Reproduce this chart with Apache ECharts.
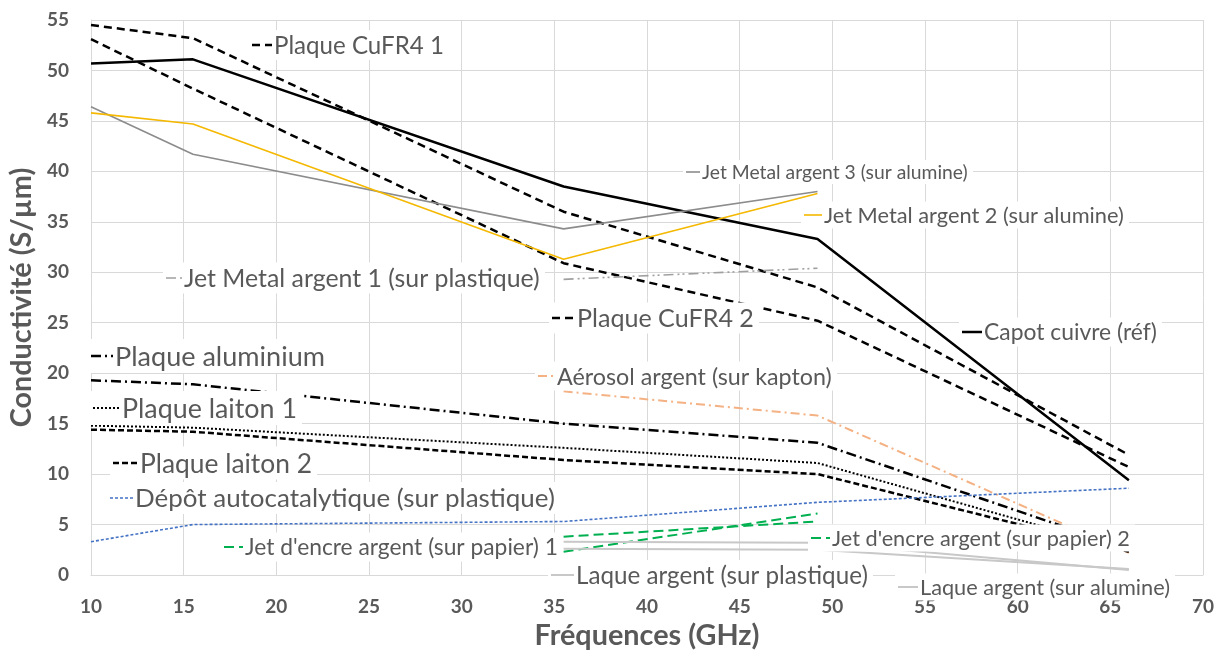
<!DOCTYPE html>
<html><head><meta charset="utf-8">
<script src="https://cdn.jsdelivr.net/npm/echarts@6/dist/echarts.min.js"></script>
<style>html,body{margin:0;padding:0;background:#fff}#c{width:1225px;height:657px}</style>
</head><body><div id="c"></div>
<script>
// ---- data ----
const freqs = [10, 15.5, 35.5, 49.2, 66];
const capotCuivre   = [50.7, 51.1, 38.5, 33.3, 9.4];
const plaqueCuFR4_1 = [54.5, 53.2, 36.0, 28.5, 11.9];
const plaqueCuFR4_2 = [53.1, 48.2, 30.9, 25.2, 10.7];
const jetMetal3     = [46.4, 41.7, 34.3, 38.0, null];
const jetMetal2     = [45.8, 44.7, 31.3, 37.8, null];
const jetMetal1     = [null, null, 29.3, 30.4, null];
const plaqueAlu     = [19.3, 18.9, 15.0, 13.1, 2.6];
const plaqueLaiton1 = [14.8, 14.6, 12.6, 11.1, 2.4];
const plaqueLaiton2 = [14.4, 14.2, 11.4, 10.0, 2.3];
const depotAuto     = [3.3, 5.0, 5.3, 7.2, 8.6];
const aerosol       = [null, null, 18.2, 15.8, 2.2];
const jetEncre1     = [null, null, 2.3, 6.1, null];
const jetEncre2     = [null, null, 3.8, 5.3, null];
const laquePlast    = [null, null, 3.3, 3.2, 0.5];
const laqueAlu      = [null, null, 2.6, 2.5, 0.6];
const xTicks = [10, 70, 5];
const yTicks = [0, 55, 5];

const FONT = 'Lato';
const TXT = '#595959';
const GRIDC = '#D9D9D9';

// series: name, data, color, width, dash, label anchor (data coords), key length, text width
const seriesDefs = [
  {name:'Plaque CuFR4 1', data:plaqueCuFR4_1, color:'#000', w:2.5, dash:[8,5], at:[18.7,52.57], key:20, tw:170},
  {name:'Plaque CuFR4 2', data:plaqueCuFR4_2, color:'#000', w:2.5, dash:[8,5], at:[34.89,25.45], key:23, tw:177},
  {name:'Capot cuivre (réf)', data:capotCuivre, color:'#000', w:2.5, dash:null, at:[57.02,24.06], key:20, tw:173},
  {name:'Jet Metal argent 3 (sur alumine)', data:jetMetal3, color:'#8C8C8C', w:1.6, dash:null, at:[42.13,39.9], key:14, tw:266},
  {name:'Jet Metal argent 2 (sur alumine)', data:jetMetal2, color:'#F5B800', w:1.6, dash:null, at:[48.49,35.64], key:18, tw:300},
  {name:'Jet Metal argent 1 (sur plastique)', data:jetMetal1, color:'#A0A0A0', w:1.6, dash:[10,4,2,3,2,4], at:[14.06,29.41], key:16, tw:356},
  {name:'Plaque aluminium', data:plaqueAlu, color:'#000', w:2.5, dash:[10,4,2,4], at:[10.02,21.68], key:22, tw:210},
  {name:'Aérosol argent (sur kapton)', data:aerosol, color:'#F4B183', w:2, dash:[9,4,2,4], at:[34.14,19.70], key:17, tw:275},
  {name:'Plaque laiton 1', data:plaqueLaiton1, color:'#000', w:2, dash:[2,2], at:[10.12,16.53], key:27, tw:175},
  {name:'Plaque laiton 2', data:plaqueLaiton2, color:'#000', w:2.5, dash:[6,3], at:[11.2,11.09], key:25, tw:172},
  {name:'Dépôt autocatalytique (sur plastique)', data:depotAuto, color:'#4472C4', w:1.6, dash:[3,2], at:[11.04,7.62], key:23, tw:420},
  {name:"Jet d'encre argent (sur papier) 1", data:jetEncre1, color:'#00B050', w:2, dash:[10,5], at:[17.19,2.77], key:19, tw:313},
  {name:"Jet d'encre argent (sur papier) 2", data:jetEncre2, color:'#00B050', w:2, dash:[10,5], at:[48.86,3.66], key:19, tw:298},
  {name:'Laque argent (sur plastique)', data:laquePlast, color:'#C8C8C8', w:2, dash:null, at:[34.84,0], key:23, tw:292},
  {name:'Laque argent (sur alumine)', data:laqueAlu, color:'#C8C8C8', w:2, dash:null, at:[53.56,-1.19], key:20, tw:250}
];

const mctx = document.createElement('canvas').getContext('2d');
function fit(text, target, weight) {
  mctx.font = (weight || 'normal') + ' 100px ' + FONT;
  return 100 * target / mctx.measureText(text).width;
}
const nameSize = fit('Fréquences (GHz)', 225, 'bold');

const chart = echarts.init(document.getElementById('c'), null, {renderer:'canvas'});
const option = {
  backgroundColor:'#fff',
  animation:false,
  grid:{left:91, right:22, top:20, bottom:82, containLabel:false, outerBoundsMode:'none'},
  xAxis:{type:'value', min:xTicks[0], max:xTicks[1], interval:xTicks[2],
    name:'Fréquences (GHz)', nameLocation:'middle', nameGap:46,
    nameTextStyle:{fontFamily:FONT, fontWeight:'bold', fontSize:nameSize, color:TXT},
    axisLine:{lineStyle:{color:GRIDC, width:1}}, axisTick:{show:false},
    axisLabel:{fontFamily:FONT, fontWeight:'bold', fontSize:19, color:TXT, margin:22},
    splitLine:{show:true, lineStyle:{color:GRIDC, width:1}}},
  yAxis:{type:'value', min:yTicks[0], max:yTicks[1], interval:yTicks[2],
    name:'Conductivité (S/µm)', nameLocation:'middle', nameGap:52,
    nameTextStyle:{fontFamily:FONT, fontWeight:'bold', fontSize:nameSize, color:TXT},
    axisLine:{show:true, lineStyle:{color:GRIDC}}, axisTick:{show:false},
    axisLabel:{fontFamily:FONT, fontWeight:'bold', fontSize:19, color:TXT, margin:22},
    splitLine:{show:true, lineStyle:{color:GRIDC, width:1}}},
  series: seriesDefs.map(s => ({
    name:s.name, type:'line', showSymbol:false, symbol:'none', connectNulls:false,
    data: freqs.map((f,i) => [f, s.data[i]]).filter(p => p[1] !== null),
    lineStyle:{color:s.color, width:s.w, type: s.dash ? s.dash : 'solid'},
    itemStyle:{color:s.color}, z:2
  }))
};
chart.setOption(option);

const graphics = seriesDefs.map((s, idx) => {
  const p = chart.convertToPixel({xAxisIndex:0, yAxisIndex:0}, s.at);
  const fs = fit(s.name, s.tw, 'normal');
  const h = Math.round(fs * 1.25);
  return {
    type:'group', x:Math.round(p[0]), y:Math.round(p[1]), z:100 + idx,
    children:[
      {type:'rect', shape:{x:-3, y:-h/2, width:s.key + 3 + s.tw + 7, height:h}, style:{fill:'#fff'}, z:100 + idx},
      {type:'line', shape:{x1:0, y1:0, x2:s.key, y2:0},
       style:{stroke:s.color, lineWidth:s.w, lineDash: s.dash || null}, z:101 + idx},
      {type:'text', x:s.key + 2, y:1, z:101 + idx,
       style:{text:s.name, fontFamily:FONT, fontSize:fs, fill:TXT, verticalAlign:'middle', align:'left'}}
    ]
  };
});
chart.setOption({graphic: graphics});
</script>
</body></html>
